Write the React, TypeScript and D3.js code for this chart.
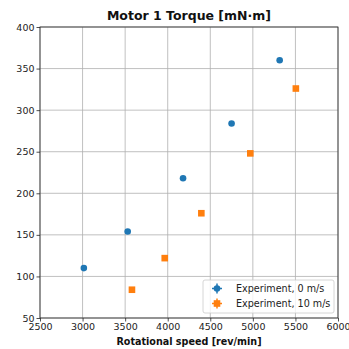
import React, { useEffect, useRef } from "react";
import * as d3 from "d3";

const speed0 = [3015, 3530, 4180, 4750, 5315];
const torque0 = [110, 154, 218, 284, 360];
const speed10 = [3580, 3965, 4395, 4970, 5505];
const torque10 = [84, 122, 176, 248, 326];
const xTicks = [2500, 3000, 3500, 4000, 4500, 5000, 5500, 6000];
const yTicks = [50, 100, 150, 200, 250, 300, 350, 400];
const seriesNames = ["Experiment, 0 m/s", "Experiment, 10 m/s"];
const colors = ["#1f77b4", "#ff7f0e"];

const W = 349;
const H = 349;

const App = () => {
  const ref = useRef<SVGGElement>(null);

  useEffect(() => {
    const g = d3.select(ref.current);
    g.selectAll("*").remove();

    const margin = { top: 27, right: 11, bottom: 31, left: 40 };
    const innerWidth = W - margin.left - margin.right;
    const innerHeight = H - margin.top - margin.bottom;
    const font = "DejaVu Sans";

    const x = d3.scaleLinear().domain([2500, 6000]).range([margin.left, margin.left + innerWidth]);
    const y = d3.scaleLinear().domain([50, 400]).range([margin.top + innerHeight, margin.top]);

    // grid
    g.append("g").selectAll("line").data(xTicks).enter().append("line")
      .attr("x1", d => x(d)).attr("x2", d => x(d))
      .attr("y1", margin.top).attr("y2", margin.top + innerHeight)
      .attr("stroke", "#b0b0b0").attr("stroke-width", 0.8);
    g.append("g").selectAll("line").data(yTicks).enter().append("line")
      .attr("y1", d => y(d)).attr("y2", d => y(d))
      .attr("x1", margin.left).attr("x2", margin.left + innerWidth)
      .attr("stroke", "#b0b0b0").attr("stroke-width", 0.8);

    // axes
    const xAxisG = g.append("g")
      .attr("transform", `translate(0, ${margin.top + innerHeight})`)
      .call(d3.axisBottom(x).tickValues(xTicks).tickSize(3.5).tickPadding(2).tickFormat(d3.format("d")));
    const yAxisG = g.append("g")
      .attr("transform", `translate(${margin.left}, 0)`)
      .call(d3.axisLeft(y).tickValues(yTicks).tickSize(3.5).tickPadding(2).tickFormat(d3.format("d")));
    [xAxisG, yAxisG].forEach(a => {
      a.select(".domain").remove();
      a.selectAll("text").attr("font-family", font).attr("font-size", 9.5).attr("fill", "#222");
      a.selectAll("line").attr("stroke", "#222").attr("stroke-width", 0.8);
    });

    // frame
    g.append("rect")
      .attr("x", margin.left).attr("y", margin.top)
      .attr("width", innerWidth).attr("height", innerHeight)
      .attr("fill", "none").attr("stroke", "#222").attr("stroke-width", 0.8);

    // points
    g.append("g").selectAll("circle").data(speed0).enter().append("circle")
      .attr("cx", d => x(d)).attr("cy", (d, i) => y(torque0[i]))
      .attr("r", 3.3).attr("fill", colors[0]);
    g.append("g").selectAll("rect").data(speed10).enter().append("rect")
      .attr("x", d => x(d) - 3.3).attr("y", (d, i) => y(torque10[i]) - 3.3)
      .attr("width", 6.6).attr("height", 6.6).attr("fill", colors[1]);

    // title and label
    g.append("text").attr("x", margin.left + innerWidth / 2).attr("y", 20)
      .attr("text-anchor", "middle").attr("font-family", font).attr("font-weight", "bold")
      .attr("font-size", 12.5).attr("fill", "#111").text("Motor 1 Torque [mN·m]");
    g.append("text").attr("x", margin.left + innerWidth / 2).attr("y", 345)
      .attr("text-anchor", "middle").attr("font-family", font).attr("font-weight", "bold")
      .attr("font-size", 9.6).attr("fill", "#111").text("Rotational speed [rev/min]");

    // legend
    const leg = g.append("g").attr("transform", "translate(203, 280)");
    leg.append("rect").attr("width", 131).attr("height", 33).attr("rx", 2)
      .attr("fill", "white").attr("fill-opacity", 0.8).attr("stroke", "#ccc").attr("stroke-width", 0.8);
    seriesNames.forEach((name, i) => {
      const cy = 8.5 + i * 15;
      const row = leg.append("g").attr("transform", `translate(14, ${cy})`);
      row.append("line").attr("x1", -5).attr("x2", 5).attr("stroke", colors[i]).attr("stroke-width", 1.5);
      row.append("line").attr("y1", -5).attr("y2", 5).attr("stroke", colors[i]).attr("stroke-width", 1.5);
      if (i === 0) row.append("circle").attr("r", 3.3).attr("fill", colors[i]);
      else row.append("rect").attr("x", -3.3).attr("y", -3.3).attr("width", 6.6).attr("height", 6.6).attr("fill", colors[i]);
      leg.append("text").attr("x", 33).attr("y", cy + 3.4)
        .attr("font-family", font).attr("font-size", 9.6).attr("fill", "#222").text(name);
    });
  }, []);

  return (
    <svg width={W} height={H} style={{ position: "absolute", left: 0, top: 0, background: "white" }}>
      <g ref={ref} />
    </svg>
  );
};

export default App;
